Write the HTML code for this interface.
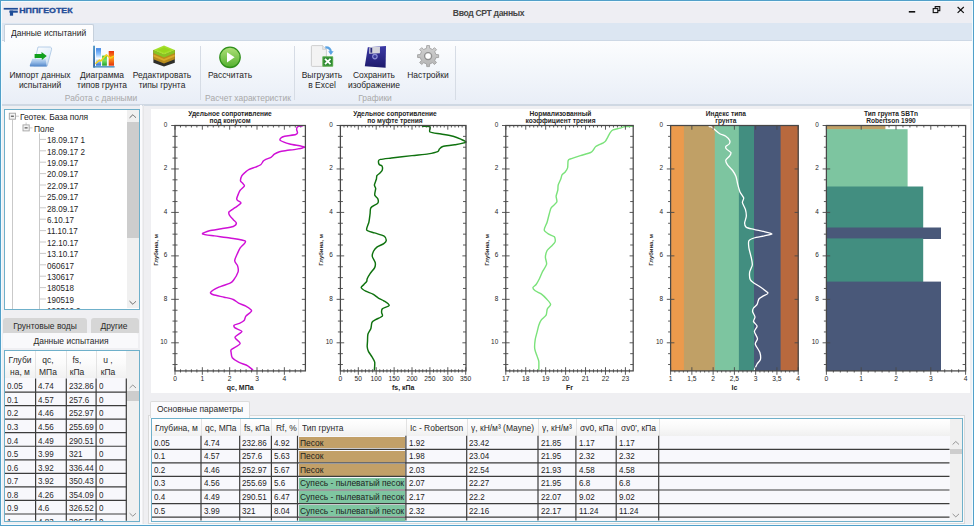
<!DOCTYPE html>
<html><head><meta charset="utf-8">
<style>
*{box-sizing:border-box;margin:0;padding:0}
html,body{width:974px;height:526px;overflow:hidden}
body{position:relative;background:#efeff2;font-family:"Liberation Sans",sans-serif;font-size:8.6px;color:#222}
.a{position:absolute}
.t{position:absolute;white-space:nowrap;line-height:1}
</style></head><body>
<div class="a" style="left:0px;top:0px;width:974px;height:24px;background:#eeeef3;"></div>
<div class="a" style="left:0px;top:23px;width:974px;height:18px;background:#dce6f2;"></div>
<div class="a" style="left:0px;top:40px;width:974px;height:1px;background:#cdd8e5;"></div>
<div class="a" style="left:0px;top:41px;width:974px;height:63px;background:linear-gradient(#fcfdfe,#f4f7fb 40%,#e9eef7);"></div>
<div class="a" style="left:0px;top:104px;width:974px;height:1.6px;background:#cfd8e3;"></div>
<div class="a" style="left:4px;top:24px;width:90px;height:18px;background:linear-gradient(#fdfdfe,#fbfcfe);border:1px solid #c6d0dc;border-bottom:none;border-radius:2px 2px 0 0"></div>
<div class="t" style="top:29.48px;font-size:9.0px;color:#1e1e1e;left:10.50px;transform:scaleX(0.9400);transform-origin:left 50%;">Данные испытаний</div>
<div class="t" style="top:8.72px;font-size:8.6px;color:#454545;font-weight:bold;letter-spacing:-0.350px;left:338.50px;width:300px;text-align:center;">Ввод CPT данных</div>
<svg class="a" style="left:0;top:0" width="974" height="24" viewBox="0 0 974 24">
<g fill="#1f4c97">
<rect x="3.7" y="7.9" width="14.2" height="1.7"/>
<rect x="9.4" y="10.6" width="8.4" height="2.1"/>
<rect x="9.9" y="10.6" width="3.2" height="5.1"/>
<text x="19.2" y="12.9" font-family="Liberation Sans" font-weight="bold" font-size="7.0" stroke="#1f4c97" stroke-width="0.3" textLength="53.4" lengthAdjust="spacingAndGlyphs">НППГЕОТЕК</text>
</g>
<rect x="908.8" y="11" width="6.4" height="1.6" fill="#111"/>
<g fill="none" stroke="#111" stroke-width="1.1">
<rect x="933.2" y="8.6" width="4.6" height="4.0"/>
<path d="M935.2 8.6 V6.6 H939.8 V10.6 H937.8"/>
<path d="M957.6 7 L963.8 12.9 M963.8 7 L957.6 12.9" stroke-width="1.2"/>
</g>
</svg>
<div class="a" style="left:200px;top:46px;width:1px;height:53.6px;background:#d6dce5;"></div>
<div class="a" style="left:294px;top:46px;width:1px;height:53.6px;background:#d6dce5;"></div>
<div class="a" style="left:455px;top:46px;width:1px;height:53.6px;background:#d6dce5;"></div>
<div class="t" style="top:71.28px;font-size:9.0px;color:#262626;left:-110.50px;width:300px;text-align:center;transform:scaleX(0.9400);transform-origin:center 50%;">Импорт данных</div>
<div class="t" style="top:80.88px;font-size:9.0px;color:#262626;left:-110.50px;width:300px;text-align:center;transform:scaleX(0.9400);transform-origin:center 50%;">испытаний</div>
<div class="t" style="top:71.28px;font-size:9.0px;color:#262626;left:-48.00px;width:300px;text-align:center;transform:scaleX(0.9400);transform-origin:center 50%;">Диаграмма</div>
<div class="t" style="top:80.88px;font-size:9.0px;color:#262626;left:-48.00px;width:300px;text-align:center;transform:scaleX(0.9400);transform-origin:center 50%;">типов грунта</div>
<div class="t" style="top:71.28px;font-size:9.0px;color:#262626;left:12.30px;width:300px;text-align:center;transform:scaleX(0.9400);transform-origin:center 50%;">Редактировать</div>
<div class="t" style="top:80.88px;font-size:9.0px;color:#262626;left:12.30px;width:300px;text-align:center;transform:scaleX(0.9400);transform-origin:center 50%;">типы грунта</div>
<div class="t" style="top:71.28px;font-size:9.0px;color:#262626;left:79.50px;width:300px;text-align:center;transform:scaleX(0.9400);transform-origin:center 50%;">Рассчитать</div>
<div class="t" style="top:71.28px;font-size:9.0px;color:#262626;left:171.50px;width:300px;text-align:center;transform:scaleX(0.9400);transform-origin:center 50%;">Выгрузить</div>
<div class="t" style="top:80.88px;font-size:9.0px;color:#262626;left:171.50px;width:300px;text-align:center;transform:scaleX(0.9400);transform-origin:center 50%;">в Excel</div>
<div class="t" style="top:71.28px;font-size:9.0px;color:#262626;left:224.30px;width:300px;text-align:center;transform:scaleX(0.9400);transform-origin:center 50%;">Сохранить</div>
<div class="t" style="top:80.88px;font-size:9.0px;color:#262626;left:224.30px;width:300px;text-align:center;transform:scaleX(0.9400);transform-origin:center 50%;">изображение</div>
<div class="t" style="top:71.28px;font-size:9.0px;color:#262626;left:278.20px;width:300px;text-align:center;transform:scaleX(0.9400);transform-origin:center 50%;">Настройки</div>
<div class="t" style="top:93.88px;font-size:9.0px;color:#a9a9a9;left:-49.00px;width:300px;text-align:center;transform:scaleX(0.9400);transform-origin:center 50%;">Работа с данными</div>
<div class="t" style="top:93.88px;font-size:9.0px;color:#a9a9a9;left:97.70px;width:300px;text-align:center;transform:scaleX(0.9400);transform-origin:center 50%;">Расчет характеристик</div>
<div class="t" style="top:93.88px;font-size:9.0px;color:#a9a9a9;left:225.40px;width:300px;text-align:center;transform:scaleX(0.9400);transform-origin:center 50%;">Графики</div>
<svg class="a" style="left:0;top:0" width="460" height="104" viewBox="0 0 460 104">
<defs>
<linearGradient id="gpage" x1="0" y1="0" x2="1" y2="1"><stop offset="0" stop-color="#ffffff"/><stop offset=".6" stop-color="#e6f0fa"/><stop offset="1" stop-color="#b8d0ea"/></linearGradient>
<linearGradient id="gtray" x1="0" y1="0" x2="0" y2="1"><stop offset="0" stop-color="#c7dcf2"/><stop offset=".5" stop-color="#8fb6e4"/><stop offset="1" stop-color="#4c82c6"/></linearGradient>
<linearGradient id="gplay" x1="0" y1="0" x2="0" y2="1"><stop offset="0" stop-color="#b0e07a"/><stop offset="1" stop-color="#52b02e"/></linearGradient>
<linearGradient id="gbar1" x1="0" y1="0" x2="0" y2="1"><stop offset="0" stop-color="#3f86e6"/><stop offset=".35" stop-color="#8fc4ff"/><stop offset=".6" stop-color="#ffffff"/><stop offset=".8" stop-color="#7ab0f0"/><stop offset="1" stop-color="#2c6cd2"/></linearGradient>
<linearGradient id="gbar2" x1="0" y1="0" x2="0" y2="1"><stop offset="0" stop-color="#4cc83a"/><stop offset=".5" stop-color="#7be060"/><stop offset="1" stop-color="#21a02a"/></linearGradient>
<linearGradient id="gbar3" x1="0" y1="0" x2="0" y2="1"><stop offset="0" stop-color="#e8300e"/><stop offset=".5" stop-color="#ff9a18"/><stop offset="1" stop-color="#e2300e"/></linearGradient>
<linearGradient id="gaxis" x1="0" y1="0" x2="0" y2="1"><stop offset="0" stop-color="#3f8cc0"/><stop offset="1" stop-color="#1d4f8f"/></linearGradient>
<linearGradient id="gfl" x1="0" y1="0" x2="0" y2="1"><stop offset="0" stop-color="#3c3aa6"/><stop offset="1" stop-color="#1d1a6c"/></linearGradient>
<linearGradient id="ggear" x1="0" y1="0" x2="0" y2="1"><stop offset="0" stop-color="#d2d2d2"/><stop offset="1" stop-color="#b4b4b4"/></linearGradient>
</defs>
<!-- import icon -->
<path d="M38 47 L50.3 47 Q52 47.6 51.6 49.3 L47.2 66 L33.6 66 Z" fill="url(#gpage)" stroke="#9dbde0" stroke-width=".7"/>
<path d="M32.2 58.8 L45.6 58.8 L46.8 66.6 L30 66.6 Q29.4 65.2 30.3 63.8 Q31.4 61.6 32.2 58.8 Z" fill="url(#gtray)"/>
<path d="M34.6 54 L41.5 54 L41.5 52.1 L46.8 56.1 L41.8 60.1 L41.8 58 L34.6 58 Z" fill="#12a01c"/>
<!-- chart icon -->
<rect x="93.2" y="45.7" width="1.7" height="21.8" fill="url(#gaxis)"/>
<rect x="93.2" y="66.2" width="21.4" height="1.3" fill="#3b86b8"/>
<rect x="96" y="48.1" width="5" height="17.6" fill="url(#gbar1)"/>
<rect x="102.1" y="55.6" width="4.8" height="10.1" fill="url(#gbar2)"/>
<rect x="108.7" y="51" width="5.3" height="14.7" fill="url(#gbar3)"/>
<path d="M95.4 63.8 L99.4 60.1 L100.8 60.9 L106.4 54.8 L110.3 58 L114 56.1" fill="none" stroke="#f6d21c" stroke-width="1.5" stroke-linejoin="round"/>
<!-- soil cube -->
<path d="M153.4 50 L164 54.6 L174.8 50 L174.8 62.8 L164 66.5 L153.4 62.8 Z" fill="#2e2e2a"/>
<path d="M153.4 50 L164 54.6 L174.8 50 L174.8 59.3 L164 63.6 L153.4 59.3 Z" fill="#b88c1c"/>
<path d="M153.4 54.6 L164 59 L174.8 54.6 L174.8 56.4 L164 60.9 L153.4 56.4 Z" fill="#d9aa2a"/>
<path d="M153.4 50 L164 54.6 L174.8 50 L174.8 53 L164 57.6 L153.4 53 Z" fill="#86c423"/>
<path d="M164 45.4 L174.8 50 L164 54.6 L153.4 50 Z" fill="#a4e02c"/>
<path d="M164 47.3 L171 50 L164 52.8 L157 50 Z" fill="#98d61e"/>
<!-- play -->
<circle cx="230" cy="57.3" r="10.2" fill="url(#gplay)" stroke="#2f8f1a" stroke-width="1.3"/>
<path d="M227 52.2 L234.6 57.3 L227 62.4 Z" fill="#ffffff"/>
<!-- excel icon -->
<path d="M312.2 45.6 L322.6 45.6 L326.4 49.4 L326.4 65.6 Q326.4 66.4 325.6 66.4 L312.2 66.4 Q311.4 66.4 311.4 65.6 L311.4 46.4 Q311.4 45.6 312.2 45.6 Z" fill="#f3f3f3" stroke="#c4c4c4" stroke-width=".8"/>
<path d="M322.6 45.6 L322.6 49.4 L326.4 49.4" fill="#e6e6e6" stroke="#c4c4c4" stroke-width=".6"/>
<path d="M325.3 47.4 Q330.6 47.2 330.9 52" fill="none" stroke="#5aa2e2" stroke-width="2.1"/>
<path d="M328.2 51.2 L333.6 51.2 L330.9 55 Z" fill="#5aa2e2"/>
<rect x="322.3" y="56.2" width="10.9" height="10.5" rx=".8" fill="#5cae4e"/>
<rect x="323.4" y="57.3" width="8.7" height="8.3" fill="#2f8a34"/>
<path d="M325 58.9 L330.5 64.1 M330.5 58.9 L325 64.1" stroke="#ffffff" stroke-width="1.8"/>
<!-- floppy -->
<path d="M367.8 47.2 L386 46 L385.6 67.8 L364.8 66.2 Z" fill="url(#gfl)"/>
<path d="M369.3 47.3 L380 46.7 L379.9 53.2 L369.2 53.7 Z" fill="#d4d4dc"/>
<rect x="370.4" y="47.9" width="1.8" height="4.8" fill="#2a2a7a"/>
<circle cx="374.9" cy="56.6" r="2.8" fill="#8d8fd6"/>
<circle cx="374.9" cy="56.6" r="1.6" fill="#3a3a9a"/>
<!-- gear -->
<path d="M426.54 48.25 L426.69 45.59 L429.51 45.59 L429.66 48.25 L432.54 49.45 L434.53 47.67 L436.53 49.67 L434.75 51.66 L435.95 54.54 L438.61 54.69 L438.61 57.51 L435.95 57.66 L434.75 60.54 L436.53 62.53 L434.53 64.53 L432.54 62.75 L429.66 63.95 L429.51 66.61 L426.69 66.61 L426.54 63.95 L423.66 62.75 L421.67 64.53 L419.67 62.53 L421.45 60.54 L420.25 57.66 L417.59 57.51 L417.59 54.69 L420.25 54.54 L421.45 51.66 L419.67 49.67 L421.67 47.67 L423.66 49.45 Z" fill="url(#ggear)" stroke="#9a9a9a" stroke-width=".8" stroke-linejoin="round"/>
<circle cx="428.1" cy="56.1" r="3.6" fill="none" stroke="#8e8e8e" stroke-width="1.1"/>
<circle cx="428.1" cy="56.1" r="2.6" fill="#ffffff"/>
</svg>
<div class="a" style="left:4px;top:109px;width:136px;height:201px;background:#ffffff;border:1px solid #6fb0ca"></div>
<div class="a" style="left:126.8px;top:110px;width:12px;height:198px;background:#f0f0f0;"></div>
<div class="a" style="left:126.8px;top:121.8px;width:12px;height:116.4px;background:#cdcdcd;"></div>
<svg class="a" style="left:0;top:0" width="145" height="526" viewBox="0 0 145 526">
<path d="M129.6 117.8 L132.8 114.8 L136 117.8" fill="none" stroke="#8a8a8a" stroke-width=".9"/>
<path d="M129.6 301.2 L132.8 304.2 L136 301.2" fill="none" stroke="#8a8a8a" stroke-width=".9"/>
<path d="M129.6 388.2 L132.8 385.2 L136 388.2" fill="none" stroke="#8a8a8a" stroke-width=".9"/>
<path d="M129.6 513.2 L132.8 516.2 L136 513.2" fill="none" stroke="#8a8a8a" stroke-width=".9"/>
<g stroke="#c9c9c9" stroke-width="1" fill="none">
<path d="M12.5 119.5 V309"/>
<path d="M16 116.2 H19"/>
<path d="M26.1 122.5 V125"/>
<path d="M29.3 127.9 H32.5"/>
<path d="M39.5 133.5 V309"/>
</g>
<g stroke="#c9c9c9" stroke-width="1"><path d="M39.5 139.4 H46"/><path d="M39.5 150.8 H46"/><path d="M39.5 162.2 H46"/><path d="M39.5 173.6 H46"/><path d="M39.5 185.0 H46"/><path d="M39.5 196.4 H46"/><path d="M39.5 207.8 H46"/><path d="M39.5 219.2 H46"/><path d="M39.5 230.6 H46"/><path d="M39.5 242.0 H46"/><path d="M39.5 253.4 H46"/><path d="M39.5 264.8 H46"/><path d="M39.5 276.2 H46"/><path d="M39.5 287.6 H46"/><path d="M39.5 299.0 H46"/><path d="M39.5 310.4 H46"/></g>
<g>
<rect x="9.3" y="113.2" width="6.2" height="6" fill="#f4f4f4" stroke="#a3a3a3" stroke-width=".9"/>
<path d="M10.9 116.2 H13.9" stroke="#333" stroke-width="1"/>
<rect x="23" y="124.9" width="6.2" height="6" fill="#f4f4f4" stroke="#a3a3a3" stroke-width=".9"/>
<path d="M24.6 127.9 H27.6" stroke="#333" stroke-width="1"/>
</g>
</svg>
<div class="t" style="top:113.38px;font-size:9.0px;color:#1e1e1e;letter-spacing:-0.120px;left:19.80px;transform:scaleX(0.9400);transform-origin:left 50%;">Геотек. База поля</div>
<div class="t" style="top:124.88px;font-size:9.0px;color:#1e1e1e;left:33.50px;transform:scaleX(0.9400);transform-origin:left 50%;">Поле</div>
<div class="t" style="top:136.28px;font-size:9.0px;color:#1e1e1e;left:47.20px;transform:scaleX(0.8950);transform-origin:left 50%;">18.09.17 1</div>
<div class="t" style="top:147.68px;font-size:9.0px;color:#1e1e1e;left:47.20px;transform:scaleX(0.8950);transform-origin:left 50%;">18.09.17 2</div>
<div class="t" style="top:159.08px;font-size:9.0px;color:#1e1e1e;left:47.20px;transform:scaleX(0.8950);transform-origin:left 50%;">19.09.17</div>
<div class="t" style="top:170.48px;font-size:9.0px;color:#1e1e1e;left:47.20px;transform:scaleX(0.8950);transform-origin:left 50%;">20.09.17</div>
<div class="t" style="top:181.88px;font-size:9.0px;color:#1e1e1e;left:47.20px;transform:scaleX(0.8950);transform-origin:left 50%;">22.09.17</div>
<div class="t" style="top:193.28px;font-size:9.0px;color:#1e1e1e;left:47.20px;transform:scaleX(0.8950);transform-origin:left 50%;">25.09.17</div>
<div class="t" style="top:204.68px;font-size:9.0px;color:#1e1e1e;left:47.20px;transform:scaleX(0.8950);transform-origin:left 50%;">28.09.17</div>
<div class="t" style="top:216.08px;font-size:9.0px;color:#1e1e1e;left:47.20px;transform:scaleX(0.8950);transform-origin:left 50%;">6.10.17</div>
<div class="t" style="top:227.48px;font-size:9.0px;color:#1e1e1e;left:47.20px;transform:scaleX(0.8950);transform-origin:left 50%;">11.10.17</div>
<div class="t" style="top:238.88px;font-size:9.0px;color:#1e1e1e;left:47.20px;transform:scaleX(0.8950);transform-origin:left 50%;">12.10.17</div>
<div class="t" style="top:250.28px;font-size:9.0px;color:#1e1e1e;left:47.20px;transform:scaleX(0.8950);transform-origin:left 50%;">13.10.17</div>
<div class="t" style="top:261.68px;font-size:9.0px;color:#1e1e1e;left:47.20px;transform:scaleX(0.8950);transform-origin:left 50%;">060617</div>
<div class="t" style="top:273.08px;font-size:9.0px;color:#1e1e1e;left:47.20px;transform:scaleX(0.8950);transform-origin:left 50%;">130617</div>
<div class="t" style="top:284.48px;font-size:9.0px;color:#1e1e1e;left:47.20px;transform:scaleX(0.8950);transform-origin:left 50%;">180518</div>
<div class="t" style="top:295.88px;font-size:9.0px;color:#1e1e1e;left:47.20px;transform:scaleX(0.8950);transform-origin:left 50%;">190519</div>
<div class="t" style="top:307.28px;font-size:9.0px;color:#1e1e1e;left:47.20px;transform:scaleX(0.8950);transform-origin:left 50%;">190519 2</div>
<div class="a" style="left:4px;top:309px;width:136px;height:10px;background:#efeff2;"></div>
<div class="a" style="left:4px;top:308.5px;width:136px;height:1.2px;background:#6fb0ca;"></div>
<div class="a" style="left:4px;top:109px;width:1px;height:201px;background:#6fb0ca;"></div>
<div class="a" style="left:139px;top:109px;width:1px;height:201px;background:#6fb0ca;"></div>
<div class="a" style="left:2.7px;top:318px;width:84.3px;height:15px;background:#d6d6d6;border-radius:3px 3px 0 0"></div>
<div class="a" style="left:91px;top:318px;width:47.5px;height:15px;background:#d6d6d6;border-radius:3px 3px 0 0"></div>
<div class="t" style="top:322.28px;font-size:9.0px;color:#2a2a2a;left:-105.20px;width:300px;text-align:center;transform:scaleX(0.9400);transform-origin:center 50%;">Грунтовые воды</div>
<div class="t" style="top:322.28px;font-size:9.0px;color:#2a2a2a;left:-35.70px;width:300px;text-align:center;transform:scaleX(0.9400);transform-origin:center 50%;">Другие</div>
<div class="a" style="left:2.7px;top:332.5px;width:135px;height:15px;background:#f9f9fb;border-radius:2px 2px 0 0"></div>
<div class="t" style="top:337.18px;font-size:9.0px;color:#2a2a2a;left:-79.50px;width:300px;text-align:center;transform:scaleX(0.9400);transform-origin:center 50%;">Данные испытания</div>
<div class="a" style="left:4px;top:350px;width:136px;height:172px;background:#f8f8fc;border:1px solid #6fb0ca"></div>
<div class="a" style="left:5px;top:351px;width:121.3px;height:27.3px;background:linear-gradient(#ffffff 0%,#fbfbfb 45%,#f1f1f1 100%);"></div>
<div class="a" style="left:35.2px;top:351px;width:1px;height:27.3px;background:#e4e4e4;"></div>
<div class="a" style="left:66.1px;top:351px;width:1px;height:27.3px;background:#e4e4e4;"></div>
<div class="a" style="left:96.3px;top:351px;width:1px;height:27.3px;background:#e4e4e4;"></div>
<div class="t" style="top:356.48px;font-size:9.0px;color:#2a2a2a;left:-130.10px;width:300px;text-align:center;transform:scaleX(0.9400);transform-origin:center 50%;">Глуби</div>
<div class="t" style="top:368.08px;font-size:9.0px;color:#2a2a2a;left:-130.10px;width:300px;text-align:center;transform:scaleX(0.9400);transform-origin:center 50%;">на, м</div>
<div class="t" style="top:356.48px;font-size:9.0px;color:#2a2a2a;left:-102.00px;width:300px;text-align:center;transform:scaleX(0.9400);transform-origin:center 50%;">qc,</div>
<div class="t" style="top:368.08px;font-size:9.0px;color:#2a2a2a;left:-102.00px;width:300px;text-align:center;transform:scaleX(0.9400);transform-origin:center 50%;">МПа</div>
<div class="t" style="top:356.48px;font-size:9.0px;color:#2a2a2a;left:-73.30px;width:300px;text-align:center;transform:scaleX(0.9400);transform-origin:center 50%;">fs,</div>
<div class="t" style="top:368.08px;font-size:9.0px;color:#2a2a2a;left:-73.30px;width:300px;text-align:center;transform:scaleX(0.9400);transform-origin:center 50%;">кПа</div>
<div class="t" style="top:356.48px;font-size:9.0px;color:#2a2a2a;left:-42.30px;width:300px;text-align:center;transform:scaleX(0.9400);transform-origin:center 50%;">u ,</div>
<div class="t" style="top:368.08px;font-size:9.0px;color:#2a2a2a;left:-42.30px;width:300px;text-align:center;transform:scaleX(0.9400);transform-origin:center 50%;">кПа</div>
<div class="a" style="left:126.3px;top:351px;width:12.7px;height:170px;background:#f0f0f0;"></div>
<div class="a" style="left:126.3px;top:391.3px;width:12.7px;height:9.7px;background:#cdcdcd;"></div>
<div class="t" style="top:382.38px;font-size:9.0px;color:#2a2a2a;left:7.10px;transform:scaleX(0.8950);transform-origin:left 50%;">0.05</div>
<div class="t" style="top:382.38px;font-size:9.0px;color:#2a2a2a;left:37.80px;transform:scaleX(0.8950);transform-origin:left 50%;">4.74</div>
<div class="t" style="top:382.38px;font-size:9.0px;color:#2a2a2a;left:68.70px;transform:scaleX(0.8950);transform-origin:left 50%;">232.86</div>
<div class="t" style="top:382.38px;font-size:9.0px;color:#2a2a2a;left:98.90px;transform:scaleX(0.8950);transform-origin:left 50%;">0</div>
<div class="t" style="top:395.93px;font-size:9.0px;color:#2a2a2a;left:7.10px;transform:scaleX(0.8950);transform-origin:left 50%;">0.1</div>
<div class="t" style="top:395.93px;font-size:9.0px;color:#2a2a2a;left:37.80px;transform:scaleX(0.8950);transform-origin:left 50%;">4.57</div>
<div class="t" style="top:395.93px;font-size:9.0px;color:#2a2a2a;left:68.70px;transform:scaleX(0.8950);transform-origin:left 50%;">257.6</div>
<div class="t" style="top:395.93px;font-size:9.0px;color:#2a2a2a;left:98.90px;transform:scaleX(0.8950);transform-origin:left 50%;">0</div>
<div class="t" style="top:409.48px;font-size:9.0px;color:#2a2a2a;left:7.10px;transform:scaleX(0.8950);transform-origin:left 50%;">0.2</div>
<div class="t" style="top:409.48px;font-size:9.0px;color:#2a2a2a;left:37.80px;transform:scaleX(0.8950);transform-origin:left 50%;">4.46</div>
<div class="t" style="top:409.48px;font-size:9.0px;color:#2a2a2a;left:68.70px;transform:scaleX(0.8950);transform-origin:left 50%;">252.97</div>
<div class="t" style="top:409.48px;font-size:9.0px;color:#2a2a2a;left:98.90px;transform:scaleX(0.8950);transform-origin:left 50%;">0</div>
<div class="t" style="top:423.03px;font-size:9.0px;color:#2a2a2a;left:7.10px;transform:scaleX(0.8950);transform-origin:left 50%;">0.3</div>
<div class="t" style="top:423.03px;font-size:9.0px;color:#2a2a2a;left:37.80px;transform:scaleX(0.8950);transform-origin:left 50%;">4.56</div>
<div class="t" style="top:423.03px;font-size:9.0px;color:#2a2a2a;left:68.70px;transform:scaleX(0.8950);transform-origin:left 50%;">255.69</div>
<div class="t" style="top:423.03px;font-size:9.0px;color:#2a2a2a;left:98.90px;transform:scaleX(0.8950);transform-origin:left 50%;">0</div>
<div class="t" style="top:436.58px;font-size:9.0px;color:#2a2a2a;left:7.10px;transform:scaleX(0.8950);transform-origin:left 50%;">0.4</div>
<div class="t" style="top:436.58px;font-size:9.0px;color:#2a2a2a;left:37.80px;transform:scaleX(0.8950);transform-origin:left 50%;">4.49</div>
<div class="t" style="top:436.58px;font-size:9.0px;color:#2a2a2a;left:68.70px;transform:scaleX(0.8950);transform-origin:left 50%;">290.51</div>
<div class="t" style="top:436.58px;font-size:9.0px;color:#2a2a2a;left:98.90px;transform:scaleX(0.8950);transform-origin:left 50%;">0</div>
<div class="t" style="top:450.13px;font-size:9.0px;color:#2a2a2a;left:7.10px;transform:scaleX(0.8950);transform-origin:left 50%;">0.5</div>
<div class="t" style="top:450.13px;font-size:9.0px;color:#2a2a2a;left:37.80px;transform:scaleX(0.8950);transform-origin:left 50%;">3.99</div>
<div class="t" style="top:450.13px;font-size:9.0px;color:#2a2a2a;left:68.70px;transform:scaleX(0.8950);transform-origin:left 50%;">321</div>
<div class="t" style="top:450.13px;font-size:9.0px;color:#2a2a2a;left:98.90px;transform:scaleX(0.8950);transform-origin:left 50%;">0</div>
<div class="t" style="top:463.68px;font-size:9.0px;color:#2a2a2a;left:7.10px;transform:scaleX(0.8950);transform-origin:left 50%;">0.6</div>
<div class="t" style="top:463.68px;font-size:9.0px;color:#2a2a2a;left:37.80px;transform:scaleX(0.8950);transform-origin:left 50%;">3.92</div>
<div class="t" style="top:463.68px;font-size:9.0px;color:#2a2a2a;left:68.70px;transform:scaleX(0.8950);transform-origin:left 50%;">336.44</div>
<div class="t" style="top:463.68px;font-size:9.0px;color:#2a2a2a;left:98.90px;transform:scaleX(0.8950);transform-origin:left 50%;">0</div>
<div class="t" style="top:477.23px;font-size:9.0px;color:#2a2a2a;left:7.10px;transform:scaleX(0.8950);transform-origin:left 50%;">0.7</div>
<div class="t" style="top:477.23px;font-size:9.0px;color:#2a2a2a;left:37.80px;transform:scaleX(0.8950);transform-origin:left 50%;">3.92</div>
<div class="t" style="top:477.23px;font-size:9.0px;color:#2a2a2a;left:68.70px;transform:scaleX(0.8950);transform-origin:left 50%;">350.43</div>
<div class="t" style="top:477.23px;font-size:9.0px;color:#2a2a2a;left:98.90px;transform:scaleX(0.8950);transform-origin:left 50%;">0</div>
<div class="t" style="top:490.78px;font-size:9.0px;color:#2a2a2a;left:7.10px;transform:scaleX(0.8950);transform-origin:left 50%;">0.8</div>
<div class="t" style="top:490.78px;font-size:9.0px;color:#2a2a2a;left:37.80px;transform:scaleX(0.8950);transform-origin:left 50%;">4.26</div>
<div class="t" style="top:490.78px;font-size:9.0px;color:#2a2a2a;left:68.70px;transform:scaleX(0.8950);transform-origin:left 50%;">354.09</div>
<div class="t" style="top:490.78px;font-size:9.0px;color:#2a2a2a;left:98.90px;transform:scaleX(0.8950);transform-origin:left 50%;">0</div>
<div class="t" style="top:504.33px;font-size:9.0px;color:#2a2a2a;left:7.10px;transform:scaleX(0.8950);transform-origin:left 50%;">0.9</div>
<div class="t" style="top:504.33px;font-size:9.0px;color:#2a2a2a;left:37.80px;transform:scaleX(0.8950);transform-origin:left 50%;">4.6</div>
<div class="t" style="top:504.33px;font-size:9.0px;color:#2a2a2a;left:68.70px;transform:scaleX(0.8950);transform-origin:left 50%;">326.52</div>
<div class="t" style="top:504.33px;font-size:9.0px;color:#2a2a2a;left:98.90px;transform:scaleX(0.8950);transform-origin:left 50%;">0</div>
<div class="t" style="top:517.88px;font-size:9.0px;color:#2a2a2a;left:7.10px;transform:scaleX(0.8950);transform-origin:left 50%;">1</div>
<div class="t" style="top:517.88px;font-size:9.0px;color:#2a2a2a;left:37.80px;transform:scaleX(0.8950);transform-origin:left 50%;">4.83</div>
<div class="t" style="top:517.88px;font-size:9.0px;color:#2a2a2a;left:68.70px;transform:scaleX(0.8950);transform-origin:left 50%;">306.55</div>
<div class="t" style="top:517.88px;font-size:9.0px;color:#2a2a2a;left:98.90px;transform:scaleX(0.8950);transform-origin:left 50%;">0</div>
<svg class="a" style="left:0;top:0" width="145" height="526" viewBox="0 0 145 526"><g stroke="#3c3c3c" stroke-width="1.2"><path d="M5 392.05 H126.5"/><path d="M5 405.60 H126.5"/><path d="M5 419.15 H126.5"/><path d="M5 432.70 H126.5"/><path d="M5 446.25 H126.5"/><path d="M5 459.80 H126.5"/><path d="M5 473.35 H126.5"/><path d="M5 486.90 H126.5"/><path d="M5 500.45 H126.5"/><path d="M5 514.00 H126.5"/><path d="M35.6 378.5 V520.8"/><path d="M66.3 378.5 V520.8"/><path d="M96.1 378.5 V520.8"/><path d="M126.3 378.5 V520.8"/></g></svg>
<div class="a" style="left:4px;top:521.2px;width:136px;height:3px;background:#efeff2;"></div>
<div class="a" style="left:4px;top:520.6px;width:136px;height:1px;background:#6fb0ca;"></div>
<div class="a" style="left:140px;top:105px;width:1.8px;height:419px;background:#fbfbfd;"></div>
<div class="a" style="left:143.4px;top:105px;width:1px;height:419px;background:#e6e6e8;"></div>
<div class="a" style="left:151px;top:109px;width:819px;height:283.6px;background:#ffffff;"></div>
<svg class="a" style="left:0;top:0" width="974" height="526" viewBox="0 0 974 526" font-family="Liberation Sans"><path d="M180.47 125.5 v2 M180.47 369.29999999999995 v3.2 M185.94 125.5 v2 M185.94 369.29999999999995 v3.2 M191.40 125.5 v2 M191.40 369.29999999999995 v3.2 M196.87 125.5 v2 M196.87 369.29999999999995 v3.2 M207.81 125.5 v2 M207.81 369.29999999999995 v3.2 M213.27 125.5 v2 M213.27 369.29999999999995 v3.2 M218.74 125.5 v2 M218.74 369.29999999999995 v3.2 M224.21 125.5 v2 M224.21 369.29999999999995 v3.2 M235.14 125.5 v2 M235.14 369.29999999999995 v3.2 M240.61 125.5 v2 M240.61 369.29999999999995 v3.2 M246.08 125.5 v2 M246.08 369.29999999999995 v3.2 M251.55 125.5 v2 M251.55 369.29999999999995 v3.2 M262.48 125.5 v2 M262.48 369.29999999999995 v3.2 M267.95 125.5 v2 M267.95 369.29999999999995 v3.2 M273.42 125.5 v2 M273.42 369.29999999999995 v3.2 M278.88 125.5 v2 M278.88 369.29999999999995 v3.2 M289.82 125.5 v2 M289.82 369.29999999999995 v3.2 M295.29 125.5 v2 M295.29 369.29999999999995 v3.2 M300.75 125.5 v2 M300.75 369.29999999999995 v3.2 M172.50 136.37 h5 M302.40 136.37 h3 M172.50 147.23 h5 M302.40 147.23 h3 M172.50 158.09 h5 M302.40 158.09 h3 M172.50 179.82 h5 M302.40 179.82 h3 M172.50 190.69 h5 M302.40 190.69 h3 M172.50 201.56 h5 M302.40 201.56 h3 M172.50 223.28 h5 M302.40 223.28 h3 M172.50 234.15 h5 M302.40 234.15 h3 M172.50 245.01 h5 M302.40 245.01 h3 M172.50 266.75 h5 M302.40 266.75 h3 M172.50 277.61 h5 M302.40 277.61 h3 M172.50 288.48 h5 M302.40 288.48 h3 M172.50 310.21 h5 M302.40 310.21 h3 M172.50 321.07 h5 M302.40 321.07 h3 M172.50 331.94 h5 M302.40 331.94 h3 M172.50 353.66 h5 M302.40 353.66 h3 M172.50 364.53 h5 M302.40 364.53 h3" stroke="#474747" stroke-width="0.9" fill="none"/><path d="M343.98 125.5 v2 M343.98 369.29999999999995 v3.2 M347.56 125.5 v2 M347.56 369.29999999999995 v3.2 M351.14 125.5 v2 M351.14 369.29999999999995 v3.2 M354.72 125.5 v2 M354.72 369.29999999999995 v3.2 M361.88 125.5 v2 M361.88 369.29999999999995 v3.2 M365.46 125.5 v2 M365.46 369.29999999999995 v3.2 M369.04 125.5 v2 M369.04 369.29999999999995 v3.2 M372.62 125.5 v2 M372.62 369.29999999999995 v3.2 M379.78 125.5 v2 M379.78 369.29999999999995 v3.2 M383.36 125.5 v2 M383.36 369.29999999999995 v3.2 M386.95 125.5 v2 M386.95 369.29999999999995 v3.2 M390.53 125.5 v2 M390.53 369.29999999999995 v3.2 M397.69 125.5 v2 M397.69 369.29999999999995 v3.2 M401.27 125.5 v2 M401.27 369.29999999999995 v3.2 M404.85 125.5 v2 M404.85 369.29999999999995 v3.2 M408.43 125.5 v2 M408.43 369.29999999999995 v3.2 M415.59 125.5 v2 M415.59 369.29999999999995 v3.2 M419.17 125.5 v2 M419.17 369.29999999999995 v3.2 M422.75 125.5 v2 M422.75 369.29999999999995 v3.2 M426.33 125.5 v2 M426.33 369.29999999999995 v3.2 M433.49 125.5 v2 M433.49 369.29999999999995 v3.2 M437.07 125.5 v2 M437.07 369.29999999999995 v3.2 M440.65 125.5 v2 M440.65 369.29999999999995 v3.2 M444.23 125.5 v2 M444.23 369.29999999999995 v3.2 M451.39 125.5 v2 M451.39 369.29999999999995 v3.2 M454.97 125.5 v2 M454.97 369.29999999999995 v3.2 M458.55 125.5 v2 M458.55 369.29999999999995 v3.2 M462.13 125.5 v2 M462.13 369.29999999999995 v3.2 M337.90 136.37 h5 M463.00 136.37 h3 M337.90 147.23 h5 M463.00 147.23 h3 M337.90 158.09 h5 M463.00 158.09 h3 M337.90 179.82 h5 M463.00 179.82 h3 M337.90 190.69 h5 M463.00 190.69 h3 M337.90 201.56 h5 M463.00 201.56 h3 M337.90 223.28 h5 M463.00 223.28 h3 M337.90 234.15 h5 M463.00 234.15 h3 M337.90 245.01 h5 M463.00 245.01 h3 M337.90 266.75 h5 M463.00 266.75 h3 M337.90 277.61 h5 M463.00 277.61 h3 M337.90 288.48 h5 M463.00 288.48 h3 M337.90 310.21 h5 M463.00 310.21 h3 M337.90 321.07 h5 M463.00 321.07 h3 M337.90 331.94 h5 M463.00 331.94 h3 M337.90 353.66 h5 M463.00 353.66 h3 M337.90 364.53 h5 M463.00 364.53 h3" stroke="#474747" stroke-width="0.9" fill="none"/><path d="M509.79 125.5 v2 M509.79 369.29999999999995 v3.2 M513.77 125.5 v2 M513.77 369.29999999999995 v3.2 M517.76 125.5 v2 M517.76 369.29999999999995 v3.2 M521.75 125.5 v2 M521.75 369.29999999999995 v3.2 M529.72 125.5 v2 M529.72 369.29999999999995 v3.2 M533.71 125.5 v2 M533.71 369.29999999999995 v3.2 M537.70 125.5 v2 M537.70 369.29999999999995 v3.2 M541.69 125.5 v2 M541.69 369.29999999999995 v3.2 M549.66 125.5 v2 M549.66 369.29999999999995 v3.2 M553.65 125.5 v2 M553.65 369.29999999999995 v3.2 M557.64 125.5 v2 M557.64 369.29999999999995 v3.2 M561.62 125.5 v2 M561.62 369.29999999999995 v3.2 M569.60 125.5 v2 M569.60 369.29999999999995 v3.2 M573.59 125.5 v2 M573.59 369.29999999999995 v3.2 M577.57 125.5 v2 M577.57 369.29999999999995 v3.2 M581.56 125.5 v2 M581.56 369.29999999999995 v3.2 M589.54 125.5 v2 M589.54 369.29999999999995 v3.2 M593.52 125.5 v2 M593.52 369.29999999999995 v3.2 M597.51 125.5 v2 M597.51 369.29999999999995 v3.2 M601.50 125.5 v2 M601.50 369.29999999999995 v3.2 M609.47 125.5 v2 M609.47 369.29999999999995 v3.2 M613.46 125.5 v2 M613.46 369.29999999999995 v3.2 M617.45 125.5 v2 M617.45 369.29999999999995 v3.2 M621.44 125.5 v2 M621.44 369.29999999999995 v3.2 M629.41 125.5 v2 M629.41 369.29999999999995 v3.2 M503.30 136.37 h5 M630.20 136.37 h3 M503.30 147.23 h5 M630.20 147.23 h3 M503.30 158.09 h5 M630.20 158.09 h3 M503.30 179.82 h5 M630.20 179.82 h3 M503.30 190.69 h5 M630.20 190.69 h3 M503.30 201.56 h5 M630.20 201.56 h3 M503.30 223.28 h5 M630.20 223.28 h3 M503.30 234.15 h5 M630.20 234.15 h3 M503.30 245.01 h5 M630.20 245.01 h3 M503.30 266.75 h5 M630.20 266.75 h3 M503.30 277.61 h5 M630.20 277.61 h3 M503.30 288.48 h5 M630.20 288.48 h3 M503.30 310.21 h5 M630.20 310.21 h3 M503.30 321.07 h5 M630.20 321.07 h3 M503.30 331.94 h5 M630.20 331.94 h3 M503.30 353.66 h5 M630.20 353.66 h3 M503.30 364.53 h5 M630.20 364.53 h3" stroke="#474747" stroke-width="0.9" fill="none"/><path d="M674.85 125.5 v2 M674.85 369.29999999999995 v3.2 M679.11 125.5 v2 M679.11 369.29999999999995 v3.2 M683.36 125.5 v2 M683.36 369.29999999999995 v3.2 M687.61 125.5 v2 M687.61 369.29999999999995 v3.2 M696.12 125.5 v2 M696.12 369.29999999999995 v3.2 M700.37 125.5 v2 M700.37 369.29999999999995 v3.2 M704.63 125.5 v2 M704.63 369.29999999999995 v3.2 M708.88 125.5 v2 M708.88 369.29999999999995 v3.2 M717.39 125.5 v2 M717.39 369.29999999999995 v3.2 M721.64 125.5 v2 M721.64 369.29999999999995 v3.2 M725.89 125.5 v2 M725.89 369.29999999999995 v3.2 M730.15 125.5 v2 M730.15 369.29999999999995 v3.2 M738.65 125.5 v2 M738.65 369.29999999999995 v3.2 M742.91 125.5 v2 M742.91 369.29999999999995 v3.2 M747.16 125.5 v2 M747.16 369.29999999999995 v3.2 M751.41 125.5 v2 M751.41 369.29999999999995 v3.2 M759.92 125.5 v2 M759.92 369.29999999999995 v3.2 M764.17 125.5 v2 M764.17 369.29999999999995 v3.2 M768.43 125.5 v2 M768.43 369.29999999999995 v3.2 M772.68 125.5 v2 M772.68 369.29999999999995 v3.2 M781.19 125.5 v2 M781.19 369.29999999999995 v3.2 M785.44 125.5 v2 M785.44 369.29999999999995 v3.2 M789.69 125.5 v2 M789.69 369.29999999999995 v3.2 M793.95 125.5 v2 M793.95 369.29999999999995 v3.2 M668.10 136.37 h5 M795.20 136.37 h3 M668.10 147.23 h5 M795.20 147.23 h3 M668.10 158.09 h5 M795.20 158.09 h3 M668.10 179.82 h5 M795.20 179.82 h3 M668.10 190.69 h5 M795.20 190.69 h3 M668.10 201.56 h5 M795.20 201.56 h3 M668.10 223.28 h5 M795.20 223.28 h3 M668.10 234.15 h5 M795.20 234.15 h3 M668.10 245.01 h5 M795.20 245.01 h3 M668.10 266.75 h5 M795.20 266.75 h3 M668.10 277.61 h5 M795.20 277.61 h3 M668.10 288.48 h5 M795.20 288.48 h3 M668.10 310.21 h5 M795.20 310.21 h3 M668.10 321.07 h5 M795.20 321.07 h3 M668.10 331.94 h5 M795.20 331.94 h3 M668.10 353.66 h5 M795.20 353.66 h3 M668.10 364.53 h5 M795.20 364.53 h3" stroke="#474747" stroke-width="0.9" fill="none"/><path d="M833.36 125.5 v2 M833.36 369.29999999999995 v3.2 M840.32 125.5 v2 M840.32 369.29999999999995 v3.2 M847.28 125.5 v2 M847.28 369.29999999999995 v3.2 M854.24 125.5 v2 M854.24 369.29999999999995 v3.2 M868.16 125.5 v2 M868.16 369.29999999999995 v3.2 M875.12 125.5 v2 M875.12 369.29999999999995 v3.2 M882.08 125.5 v2 M882.08 369.29999999999995 v3.2 M889.04 125.5 v2 M889.04 369.29999999999995 v3.2 M902.96 125.5 v2 M902.96 369.29999999999995 v3.2 M909.92 125.5 v2 M909.92 369.29999999999995 v3.2 M916.88 125.5 v2 M916.88 369.29999999999995 v3.2 M923.84 125.5 v2 M923.84 369.29999999999995 v3.2 M937.76 125.5 v2 M937.76 369.29999999999995 v3.2 M944.72 125.5 v2 M944.72 369.29999999999995 v3.2 M951.68 125.5 v2 M951.68 369.29999999999995 v3.2 M958.64 125.5 v2 M958.64 369.29999999999995 v3.2 M823.90 136.37 h5 M962.60 136.37 h3 M823.90 147.23 h5 M962.60 147.23 h3 M823.90 158.09 h5 M962.60 158.09 h3 M823.90 179.82 h5 M962.60 179.82 h3 M823.90 190.69 h5 M962.60 190.69 h3 M823.90 201.56 h5 M962.60 201.56 h3 M823.90 223.28 h5 M962.60 223.28 h3 M823.90 234.15 h5 M962.60 234.15 h3 M823.90 245.01 h5 M962.60 245.01 h3 M823.90 266.75 h5 M962.60 266.75 h3 M823.90 277.61 h5 M962.60 277.61 h3 M823.90 288.48 h5 M962.60 288.48 h3 M823.90 310.21 h5 M962.60 310.21 h3 M823.90 321.07 h5 M962.60 321.07 h3 M823.90 331.94 h5 M962.60 331.94 h3 M823.90 353.66 h5 M962.60 353.66 h3 M823.90 364.53 h5 M962.60 364.53 h3" stroke="#474747" stroke-width="0.9" fill="none"/><rect x="670.6" y="125.5" width="13.80" height="245.40" fill="#eb9a4c"/><rect x="683.9" y="125.5" width="31.40" height="245.40" fill="#c0a066"/><rect x="714.8" y="125.5" width="24.60" height="245.40" fill="#7dc5a0"/><rect x="738.9" y="125.5" width="15.60" height="245.40" fill="#428e80"/><rect x="754.0" y="125.5" width="27.10" height="245.40" fill="#495879"/><rect x="780.6" y="125.5" width="18.10" height="245.40" fill="#b8693e"/><rect x="826.4" y="125.5" width="59.00" height="4.30" fill="#c0a066"/><rect x="826.4" y="129.2" width="81.20" height="57.90" fill="#7dc5a0"/><rect x="826.4" y="186.5" width="96.80" height="41.60" fill="#428e80"/><rect x="826.4" y="227.5" width="114.60" height="11.50" fill="#495879"/><rect x="826.4" y="238.4" width="96.80" height="43.80" fill="#428e80"/><rect x="826.4" y="281.6" width="114.60" height="89.30" fill="#495879"/><path d="M302.10 126.00 C301.53 126.10 298.19 126.38 297.50 126.80 C296.81 127.22 296.60 128.65 296.60 129.40 C296.60 130.15 297.60 132.16 297.50 132.80 C297.40 133.44 297.40 134.06 295.80 134.50 C294.20 134.94 286.56 135.86 284.70 136.30 C282.84 136.74 281.44 137.47 280.90 138.00 C280.36 138.53 279.29 139.75 280.40 140.50 C281.51 141.25 286.81 143.19 289.80 144.00 C292.79 144.81 303.45 146.36 304.30 147.00 C305.15 147.64 298.84 148.66 296.60 149.10 C294.36 149.54 288.54 150.18 286.40 150.50 C284.26 150.82 281.00 151.24 279.50 151.70 C278.00 152.16 275.46 153.50 274.40 154.20 C273.34 154.90 272.07 156.65 271.00 157.30 C269.93 157.95 266.76 158.93 265.80 159.40 C264.84 159.88 263.94 160.42 263.30 161.10 C262.66 161.78 261.66 164.05 260.70 164.80 C259.74 165.55 257.10 166.50 255.60 167.10 C254.10 167.70 249.99 168.96 248.70 169.60 C247.41 170.24 246.15 171.45 245.30 172.20 C244.45 172.95 242.50 174.52 241.90 175.60 C241.30 176.68 240.40 179.84 240.50 180.80 C240.60 181.76 242.21 182.66 242.70 183.30 C243.19 183.94 244.71 185.04 244.40 185.90 C244.09 186.76 240.94 189.24 240.20 190.20 C239.46 191.16 238.94 192.54 238.50 193.60 C238.06 194.66 236.81 197.85 236.70 198.70 C236.59 199.55 237.06 199.85 237.60 200.40 C238.14 200.95 241.32 202.19 241.00 203.10 C240.68 204.01 236.50 206.59 235.00 207.70 C233.50 208.81 229.68 211.04 229.00 212.00 C228.32 212.96 229.06 214.44 229.60 215.40 C230.14 216.36 232.45 218.74 233.30 219.70 C234.15 220.66 236.40 222.25 236.40 223.10 C236.40 223.95 235.19 225.79 233.30 226.50 C231.41 227.21 224.29 228.26 221.30 228.80 C218.31 229.34 211.75 230.16 209.40 230.80 C207.05 231.44 201.86 233.26 202.50 233.90 C203.14 234.54 211.07 235.39 214.50 235.90 C217.93 236.41 226.05 237.35 229.90 238.00 C233.75 238.65 244.01 239.86 245.30 241.10 C246.59 242.34 241.16 246.40 240.20 247.90 C239.24 249.40 238.29 251.49 237.60 253.10 C236.91 254.71 234.70 259.20 234.70 260.80 C234.70 262.40 237.17 264.51 237.60 265.90 C238.03 267.29 238.64 270.07 238.10 271.90 C237.56 273.72 234.36 279.07 233.30 280.50 C232.24 281.93 231.41 282.46 229.60 283.30 C227.79 284.14 221.18 286.07 218.80 287.20 C216.43 288.32 211.28 291.35 210.60 292.30 C209.92 293.25 211.70 294.19 213.40 294.80 C215.10 295.41 221.72 296.61 224.20 297.20 C226.67 297.79 231.40 298.76 233.20 299.50 C235.00 300.24 237.01 302.26 238.60 303.10 C240.19 303.94 244.28 305.25 245.90 306.20 C247.53 307.15 251.60 309.46 251.60 310.70 C251.60 311.94 246.84 314.86 245.90 316.10 C244.96 317.34 244.90 319.69 244.10 320.60 C243.30 321.51 240.75 322.82 239.50 323.40 C238.25 323.97 234.66 324.64 234.10 325.20 C233.54 325.76 234.03 327.11 235.00 327.90 C235.97 328.69 241.90 330.31 241.90 331.50 C241.90 332.69 235.22 335.89 235.00 337.40 C234.78 338.91 240.55 342.09 240.10 343.60 C239.65 345.11 232.53 348.41 231.40 349.50 C230.28 350.59 230.99 351.28 231.10 352.30 C231.21 353.32 231.36 356.46 232.30 357.70 C233.24 358.94 236.68 361.19 238.60 362.20 C240.52 363.21 245.94 364.85 247.70 365.80 C249.46 366.75 252.07 369.30 252.70 369.80" fill="none" stroke="#cf10d6" stroke-width="1.45" stroke-linejoin="round" stroke-linecap="round"/><path d="M422.60 126.30 C423.53 126.36 429.07 126.09 430.00 126.80 C430.93 127.51 428.61 131.10 430.00 132.00 C431.39 132.90 438.21 133.46 441.10 134.00 C443.99 134.54 450.64 135.65 453.10 136.30 C455.56 136.95 459.20 138.46 460.80 139.20 C462.40 139.94 466.65 141.50 465.90 142.20 C465.15 142.90 457.69 144.26 454.80 144.80 C451.91 145.34 444.73 145.96 442.80 146.50 C440.88 147.04 440.04 148.45 439.40 149.10 C438.76 149.75 439.09 151.10 437.70 151.70 C436.31 152.30 431.51 153.41 428.30 153.90 C425.09 154.39 416.60 155.09 412.00 155.60 C407.40 156.11 395.45 157.53 391.50 158.00 C387.55 158.47 382.01 159.06 380.40 159.40 C378.79 159.74 378.75 160.06 378.60 160.70 C378.45 161.34 378.76 163.81 379.20 164.50 C379.64 165.19 381.74 165.45 382.10 166.20 C382.46 166.95 382.43 169.60 382.10 170.50 C381.78 171.40 380.15 172.76 379.50 173.40 C378.85 174.04 377.29 174.90 376.90 175.60 C376.51 176.30 376.71 177.82 376.40 179.00 C376.09 180.18 374.49 183.81 374.40 185.00 C374.31 186.19 375.66 187.25 375.70 188.50 C375.74 189.75 374.44 193.72 374.70 195.00 C374.96 196.28 377.41 197.69 377.80 198.70 C378.19 199.71 378.66 201.97 377.80 203.10 C376.94 204.22 371.86 206.38 370.90 207.70 C369.94 209.02 370.35 211.89 370.10 213.70 C369.85 215.51 369.32 220.16 368.90 222.20 C368.47 224.24 366.01 228.66 366.70 230.00 C367.39 231.34 372.26 232.16 374.40 232.90 C376.54 233.64 382.31 234.99 383.80 235.90 C385.29 236.81 386.30 239.24 386.30 240.20 C386.30 241.16 384.98 242.74 383.80 243.60 C382.62 244.46 378.19 246.14 376.90 247.10 C375.61 248.06 374.07 250.12 373.50 251.30 C372.93 252.48 372.09 255.10 372.30 256.50 C372.51 257.90 374.90 261.11 375.20 262.50 C375.50 263.89 375.34 266.21 374.70 267.60 C374.06 268.99 371.04 272.21 370.10 273.60 C369.16 274.99 367.62 277.74 367.20 278.70 C366.77 279.66 367.11 280.57 366.70 281.30 C366.29 282.03 364.59 283.71 363.90 284.50 C363.21 285.29 360.97 286.76 361.20 287.60 C361.43 288.44 364.24 290.39 365.70 291.20 C367.16 292.01 371.31 293.24 372.90 294.10 C374.49 294.96 377.04 297.26 378.40 298.10 C379.76 298.94 382.45 299.90 383.80 300.80 C385.15 301.70 389.39 304.29 389.20 305.30 C389.01 306.31 383.25 308.00 382.30 308.90 C381.35 309.80 381.60 311.60 381.60 312.50 C381.60 313.40 383.05 315.20 382.30 316.10 C381.55 317.00 376.89 318.91 375.60 319.70 C374.31 320.49 372.60 321.26 372.00 322.40 C371.40 323.54 371.31 327.32 370.80 328.80 C370.29 330.28 368.31 332.62 367.90 334.20 C367.49 335.77 367.59 339.82 367.50 341.40 C367.41 342.97 367.09 345.55 367.20 346.80 C367.31 348.05 367.80 350.15 368.40 351.40 C369.00 352.65 371.21 355.45 372.00 356.80 C372.79 358.15 374.40 360.57 374.70 362.20 C375.00 363.82 374.44 368.85 374.40 369.80" fill="none" stroke="#0f720f" stroke-width="1.45" stroke-linejoin="round" stroke-linecap="round"/><path d="M633.20 126.20 C632.16 126.25 626.58 126.35 624.90 126.60 C623.22 126.85 621.29 127.79 619.80 128.20 C618.31 128.61 614.17 129.39 613.00 129.90 C611.83 130.41 611.05 131.40 610.40 132.30 C609.75 133.20 608.44 135.96 607.80 137.10 C607.16 138.24 605.94 140.65 605.30 141.40 C604.66 142.15 603.89 142.46 602.70 143.10 C601.51 143.74 596.97 145.64 595.80 146.50 C594.62 147.36 593.94 149.25 593.30 150.00 C592.66 150.75 592.31 151.80 590.70 152.50 C589.09 153.20 582.96 154.79 580.40 155.60 C577.84 156.41 571.74 158.36 570.20 159.00 C568.66 159.64 568.43 159.59 568.10 160.70 C567.77 161.81 567.99 166.46 567.60 167.90 C567.21 169.34 565.70 171.34 565.00 172.20 C564.30 173.06 562.52 173.95 562.00 174.80 C561.48 175.65 561.27 177.72 560.80 179.00 C560.32 180.28 558.58 183.60 558.20 185.00 C557.83 186.40 558.06 188.80 557.80 190.20 C557.54 191.60 556.23 194.71 556.10 196.20 C555.98 197.69 557.40 200.66 556.80 202.10 C556.20 203.54 552.24 206.25 551.30 207.70 C550.36 209.15 549.82 211.89 549.30 213.70 C548.77 215.51 547.74 220.16 547.10 222.20 C546.46 224.24 543.99 228.50 544.20 230.00 C544.41 231.50 547.52 233.35 548.80 234.20 C550.07 235.05 553.61 235.84 554.40 236.80 C555.19 237.76 555.49 240.73 555.10 241.90 C554.71 243.07 552.30 245.12 551.30 246.20 C550.30 247.27 547.84 249.11 547.10 250.50 C546.36 251.89 545.46 255.59 545.40 257.30 C545.34 259.01 546.98 262.38 546.60 264.20 C546.23 266.02 543.30 270.09 542.40 271.90 C541.50 273.71 540.19 277.12 539.40 278.70 C538.61 280.27 536.91 283.39 536.10 284.50 C535.29 285.61 533.01 286.81 532.90 287.60 C532.79 288.39 534.12 289.99 535.20 290.80 C536.28 291.61 540.08 293.08 541.50 294.10 C542.92 295.12 545.46 297.71 546.60 299.00 C547.74 300.29 550.51 303.16 550.60 304.40 C550.69 305.64 547.86 307.55 547.30 308.90 C546.74 310.25 546.83 313.85 546.10 315.20 C545.38 316.55 542.41 318.45 541.50 319.70 C540.59 320.95 539.36 323.61 538.80 325.20 C538.24 326.79 537.45 330.60 537.00 332.40 C536.55 334.20 535.49 337.58 535.20 339.60 C534.91 341.62 534.48 346.56 534.70 348.60 C534.93 350.64 536.49 354.31 537.00 355.90 C537.51 357.49 538.57 359.56 538.80 361.30 C539.02 363.04 538.80 368.74 538.80 369.80" fill="none" stroke="#7ae27a" stroke-width="1.4" stroke-linejoin="round" stroke-linecap="round"/><path d="M709.20 126.50 C709.45 126.54 710.53 126.44 711.20 126.80 C711.88 127.16 713.53 128.54 714.60 129.40 C715.67 130.26 718.40 132.84 719.80 133.70 C721.20 134.56 724.56 135.45 725.80 136.30 C727.04 137.15 729.28 139.54 729.70 140.50 C730.12 141.46 729.69 143.25 729.20 144.00 C728.71 144.75 726.12 145.86 725.80 146.50 C725.47 147.14 725.96 148.35 726.60 149.10 C727.24 149.85 730.51 151.65 730.90 152.50 C731.29 153.35 730.34 154.94 729.70 155.90 C729.06 156.86 726.07 159.09 725.80 160.20 C725.52 161.31 726.65 163.51 727.50 164.80 C728.35 166.09 731.54 169.04 732.60 170.50 C733.66 171.96 735.36 174.79 736.00 176.50 C736.64 178.21 737.20 182.27 737.70 184.20 C738.20 186.12 739.25 190.19 740.00 191.90 C740.75 193.61 743.40 196.58 743.70 197.90 C744.00 199.22 742.19 201.06 742.40 202.50 C742.61 203.94 744.91 207.68 745.40 209.40 C745.89 211.12 746.40 214.59 746.30 216.30 C746.20 218.01 744.60 221.71 744.60 223.10 C744.60 224.49 745.12 226.61 746.30 227.40 C747.47 228.19 751.75 228.86 754.00 229.40 C756.25 229.94 762.05 231.14 764.30 231.70 C766.55 232.26 772.00 233.38 772.00 233.90 C772.00 234.43 766.55 235.39 764.30 235.90 C762.05 236.41 755.92 237.40 754.00 238.00 C752.08 238.60 749.54 239.46 748.90 240.70 C748.26 241.94 748.59 245.71 748.90 247.90 C749.21 250.09 750.98 256.06 751.40 258.20 C751.82 260.34 752.51 263.29 752.30 265.00 C752.09 266.71 749.96 270.09 749.70 271.90 C749.44 273.71 749.73 278.15 750.20 279.50 C750.68 280.85 752.19 281.74 753.50 282.70 C754.81 283.66 758.89 285.91 760.70 287.20 C762.51 288.49 767.66 291.91 768.00 293.00 C768.34 294.09 764.54 295.15 763.40 295.90 C762.26 296.65 759.69 297.94 758.90 299.00 C758.11 300.06 757.77 303.27 757.10 304.40 C756.43 305.52 754.06 307.10 753.50 308.00 C752.94 308.90 752.41 310.48 752.60 311.60 C752.79 312.73 754.89 315.76 755.00 317.00 C755.11 318.24 753.24 320.36 753.50 321.50 C753.76 322.64 756.99 324.85 757.10 326.10 C757.21 327.35 754.35 329.93 754.40 331.50 C754.45 333.07 757.39 337.12 757.50 338.70 C757.61 340.27 755.01 342.40 755.30 344.10 C755.59 345.80 759.16 350.38 759.80 352.30 C760.44 354.23 760.74 358.04 760.40 359.50 C760.06 360.96 757.85 362.71 757.10 364.00 C756.35 365.29 754.74 369.07 754.40 369.80" fill="none" stroke="#ffffff" stroke-width="1.3" stroke-linejoin="round" stroke-linecap="round"/><text x="175.00" y="380.5" font-size="6.7" fill="#262626" text-anchor="middle">0</text><text x="202.34" y="380.5" font-size="6.7" fill="#262626" text-anchor="middle">1</text><text x="229.68" y="380.5" font-size="6.7" fill="#262626" text-anchor="middle">2</text><text x="257.01" y="380.5" font-size="6.7" fill="#262626" text-anchor="middle">3</text><text x="284.35" y="380.5" font-size="6.7" fill="#262626" text-anchor="middle">4</text><text x="167.40" y="127.00" font-size="6.4" fill="#262626" text-anchor="end">0</text><text x="167.40" y="170.46" font-size="6.4" fill="#262626" text-anchor="end">2</text><text x="167.40" y="213.92" font-size="6.4" fill="#262626" text-anchor="end">4</text><text x="167.40" y="257.38" font-size="6.4" fill="#262626" text-anchor="end">6</text><text x="167.40" y="300.84" font-size="6.4" fill="#262626" text-anchor="end">8</text><text x="167.40" y="344.30" font-size="6.4" fill="#262626" text-anchor="end">10</text><path d="M175.00 125.5 v4.2 M175.00 367.2 v7.6 M202.34 125.5 v4.2 M202.34 367.2 v7.6 M229.68 125.5 v4.2 M229.68 367.2 v7.6 M257.01 125.5 v4.2 M257.01 367.2 v7.6 M284.35 125.5 v4.2 M284.35 367.2 v7.6 M171.20 125.50 h7.6 M301.80 125.50 h3.6 M171.20 168.96 h7.6 M301.80 168.96 h3.6 M171.20 212.42 h7.6 M301.80 212.42 h3.6 M171.20 255.88 h7.6 M301.80 255.88 h3.6 M171.20 299.34 h7.6 M301.80 299.34 h3.6 M171.20 342.80 h7.6 M301.80 342.80 h3.6" stroke="#474747" stroke-width="0.9" fill="none"/><rect x="175.0" y="125.5" width="130.40" height="245.40" fill="none" stroke="#474747" stroke-width="1.25"/><text x="230" y="116.2" font-size="6.6" font-weight="bold" fill="#262626" text-anchor="middle">Удельное сопротивление</text><text x="230" y="123.0" font-size="6.6" font-weight="bold" fill="#262626" text-anchor="middle">под конусом</text><text x="240.20" y="390.2" font-size="7.0" font-weight="bold" fill="#262626" text-anchor="middle">qc, МПа</text><text transform="translate(157.80 249.9) rotate(-90)" font-size="5.9" font-weight="bold" fill="#262626" text-anchor="middle">Глубина, м</text><text x="340.40" y="380.5" font-size="6.7" fill="#262626" text-anchor="middle">0</text><text x="358.30" y="380.5" font-size="6.7" fill="#262626" text-anchor="middle">50</text><text x="376.20" y="380.5" font-size="6.7" fill="#262626" text-anchor="middle">100</text><text x="394.11" y="380.5" font-size="6.7" fill="#262626" text-anchor="middle">150</text><text x="412.01" y="380.5" font-size="6.7" fill="#262626" text-anchor="middle">200</text><text x="429.91" y="380.5" font-size="6.7" fill="#262626" text-anchor="middle">250</text><text x="447.81" y="380.5" font-size="6.7" fill="#262626" text-anchor="middle">300</text><text x="465.71" y="380.5" font-size="6.7" fill="#262626" text-anchor="middle">350</text><text x="332.80" y="127.00" font-size="6.4" fill="#262626" text-anchor="end">0</text><text x="332.80" y="170.46" font-size="6.4" fill="#262626" text-anchor="end">2</text><text x="332.80" y="213.92" font-size="6.4" fill="#262626" text-anchor="end">4</text><text x="332.80" y="257.38" font-size="6.4" fill="#262626" text-anchor="end">6</text><text x="332.80" y="300.84" font-size="6.4" fill="#262626" text-anchor="end">8</text><text x="332.80" y="344.30" font-size="6.4" fill="#262626" text-anchor="end">10</text><path d="M340.40 125.5 v4.2 M340.40 367.2 v7.6 M358.30 125.5 v4.2 M358.30 367.2 v7.6 M376.20 125.5 v4.2 M376.20 367.2 v7.6 M394.11 125.5 v4.2 M394.11 367.2 v7.6 M412.01 125.5 v4.2 M412.01 367.2 v7.6 M429.91 125.5 v4.2 M429.91 367.2 v7.6 M447.81 125.5 v4.2 M447.81 367.2 v7.6 M465.71 125.5 v4.2 M465.71 367.2 v7.6 M336.60 125.50 h7.6 M462.40 125.50 h3.6 M336.60 168.96 h7.6 M462.40 168.96 h3.6 M336.60 212.42 h7.6 M462.40 212.42 h3.6 M336.60 255.88 h7.6 M462.40 255.88 h3.6 M336.60 299.34 h7.6 M462.40 299.34 h3.6 M336.60 342.80 h7.6 M462.40 342.80 h3.6" stroke="#474747" stroke-width="0.9" fill="none"/><rect x="340.4" y="125.5" width="125.60" height="245.40" fill="none" stroke="#474747" stroke-width="1.25"/><text x="395" y="116.2" font-size="6.6" font-weight="bold" fill="#262626" text-anchor="middle">Удельное сопротивление</text><text x="395" y="123.0" font-size="6.6" font-weight="bold" fill="#262626" text-anchor="middle">по муфте трения</text><text x="403.20" y="390.2" font-size="7.0" font-weight="bold" fill="#262626" text-anchor="middle">fs, кПа</text><text transform="translate(323.20 249.9) rotate(-90)" font-size="5.9" font-weight="bold" fill="#262626" text-anchor="middle">Глубина, м</text><text x="505.80" y="380.5" font-size="6.7" fill="#262626" text-anchor="middle">17</text><text x="525.74" y="380.5" font-size="6.7" fill="#262626" text-anchor="middle">18</text><text x="545.67" y="380.5" font-size="6.7" fill="#262626" text-anchor="middle">19</text><text x="565.61" y="380.5" font-size="6.7" fill="#262626" text-anchor="middle">20</text><text x="585.55" y="380.5" font-size="6.7" fill="#262626" text-anchor="middle">21</text><text x="605.49" y="380.5" font-size="6.7" fill="#262626" text-anchor="middle">22</text><text x="625.42" y="380.5" font-size="6.7" fill="#262626" text-anchor="middle">23</text><text x="498.20" y="127.00" font-size="6.4" fill="#262626" text-anchor="end">0</text><text x="498.20" y="170.46" font-size="6.4" fill="#262626" text-anchor="end">2</text><text x="498.20" y="213.92" font-size="6.4" fill="#262626" text-anchor="end">4</text><text x="498.20" y="257.38" font-size="6.4" fill="#262626" text-anchor="end">6</text><text x="498.20" y="300.84" font-size="6.4" fill="#262626" text-anchor="end">8</text><text x="498.20" y="344.30" font-size="6.4" fill="#262626" text-anchor="end">10</text><path d="M505.80 125.5 v4.2 M505.80 367.2 v7.6 M525.74 125.5 v4.2 M525.74 367.2 v7.6 M545.67 125.5 v4.2 M545.67 367.2 v7.6 M565.61 125.5 v4.2 M565.61 367.2 v7.6 M585.55 125.5 v4.2 M585.55 367.2 v7.6 M605.49 125.5 v4.2 M605.49 367.2 v7.6 M625.42 125.5 v4.2 M625.42 367.2 v7.6 M502.00 125.50 h7.6 M629.60 125.50 h3.6 M502.00 168.96 h7.6 M629.60 168.96 h3.6 M502.00 212.42 h7.6 M629.60 212.42 h3.6 M502.00 255.88 h7.6 M629.60 255.88 h3.6 M502.00 299.34 h7.6 M629.60 299.34 h3.6 M502.00 342.80 h7.6 M629.60 342.80 h3.6" stroke="#474747" stroke-width="0.9" fill="none"/><rect x="505.8" y="125.5" width="127.40" height="245.40" fill="none" stroke="#474747" stroke-width="1.25"/><text x="560.5" y="116.2" font-size="6.6" font-weight="bold" fill="#262626" text-anchor="middle">Нормализованный</text><text x="560.5" y="123.0" font-size="6.6" font-weight="bold" fill="#262626" text-anchor="middle">коэффициент трения</text><text x="569.50" y="390.2" font-size="7.0" font-weight="bold" fill="#262626" text-anchor="middle">Fr</text><text transform="translate(488.60 249.9) rotate(-90)" font-size="5.9" font-weight="bold" fill="#262626" text-anchor="middle">Глубина, м</text><text x="670.60" y="380.5" font-size="6.7" fill="#262626" text-anchor="middle">1</text><text x="691.87" y="380.5" font-size="6.7" fill="#262626" text-anchor="middle">1,5</text><text x="713.13" y="380.5" font-size="6.7" fill="#262626" text-anchor="middle">2</text><text x="734.40" y="380.5" font-size="6.7" fill="#262626" text-anchor="middle">2,5</text><text x="755.67" y="380.5" font-size="6.7" fill="#262626" text-anchor="middle">3</text><text x="776.93" y="380.5" font-size="6.7" fill="#262626" text-anchor="middle">3,5</text><text x="798.20" y="380.5" font-size="6.7" fill="#262626" text-anchor="middle">4</text><text x="663.00" y="127.00" font-size="6.4" fill="#262626" text-anchor="end">0</text><text x="663.00" y="170.46" font-size="6.4" fill="#262626" text-anchor="end">2</text><text x="663.00" y="213.92" font-size="6.4" fill="#262626" text-anchor="end">4</text><text x="663.00" y="257.38" font-size="6.4" fill="#262626" text-anchor="end">6</text><text x="663.00" y="300.84" font-size="6.4" fill="#262626" text-anchor="end">8</text><text x="663.00" y="344.30" font-size="6.4" fill="#262626" text-anchor="end">10</text><path d="M670.60 125.5 v4.2 M670.60 367.2 v7.6 M691.87 125.5 v4.2 M691.87 367.2 v7.6 M713.13 125.5 v4.2 M713.13 367.2 v7.6 M734.40 125.5 v4.2 M734.40 367.2 v7.6 M755.67 125.5 v4.2 M755.67 367.2 v7.6 M776.93 125.5 v4.2 M776.93 367.2 v7.6 M798.20 125.5 v4.2 M798.20 367.2 v7.6 M666.80 125.50 h7.6 M794.60 125.50 h3.6 M666.80 168.96 h7.6 M794.60 168.96 h3.6 M666.80 212.42 h7.6 M794.60 212.42 h3.6 M666.80 255.88 h7.6 M794.60 255.88 h3.6 M666.80 299.34 h7.6 M794.60 299.34 h3.6 M666.80 342.80 h7.6 M794.60 342.80 h3.6" stroke="#474747" stroke-width="0.9" fill="none"/><rect x="670.6" y="125.5" width="127.60" height="245.40" fill="none" stroke="#474747" stroke-width="1.25"/><text x="725.8" y="116.2" font-size="6.6" font-weight="bold" fill="#262626" text-anchor="middle">Индекс типа</text><text x="725.8" y="123.0" font-size="6.6" font-weight="bold" fill="#262626" text-anchor="middle">грунта</text><text x="734.40" y="390.2" font-size="7.0" font-weight="bold" fill="#262626" text-anchor="middle">Ic</text><text transform="translate(653.40 249.9) rotate(-90)" font-size="5.9" font-weight="bold" fill="#262626" text-anchor="middle">Глубина, м</text><text x="826.40" y="380.5" font-size="6.7" fill="#262626" text-anchor="middle">0</text><text x="861.20" y="380.5" font-size="6.7" fill="#262626" text-anchor="middle">1</text><text x="896.00" y="380.5" font-size="6.7" fill="#262626" text-anchor="middle">2</text><text x="930.80" y="380.5" font-size="6.7" fill="#262626" text-anchor="middle">3</text><text x="965.60" y="380.5" font-size="6.7" fill="#262626" text-anchor="middle">4</text><text x="818.80" y="127.00" font-size="6.4" fill="#262626" text-anchor="end">0</text><text x="818.80" y="170.46" font-size="6.4" fill="#262626" text-anchor="end">2</text><text x="818.80" y="213.92" font-size="6.4" fill="#262626" text-anchor="end">4</text><text x="818.80" y="257.38" font-size="6.4" fill="#262626" text-anchor="end">6</text><text x="818.80" y="300.84" font-size="6.4" fill="#262626" text-anchor="end">8</text><text x="818.80" y="344.30" font-size="6.4" fill="#262626" text-anchor="end">10</text><path d="M826.40 125.5 v4.2 M826.40 367.2 v7.6 M861.20 125.5 v4.2 M861.20 367.2 v7.6 M896.00 125.5 v4.2 M896.00 367.2 v7.6 M930.80 125.5 v4.2 M930.80 367.2 v7.6 M965.60 125.5 v4.2 M965.60 367.2 v7.6 M822.60 125.50 h7.6 M962.00 125.50 h3.6 M822.60 168.96 h7.6 M962.00 168.96 h3.6 M822.60 212.42 h7.6 M962.00 212.42 h3.6 M822.60 255.88 h7.6 M962.00 255.88 h3.6 M822.60 299.34 h7.6 M962.00 299.34 h3.6 M822.60 342.80 h7.6 M962.00 342.80 h3.6" stroke="#474747" stroke-width="0.9" fill="none"/><rect x="826.4" y="125.5" width="139.20" height="245.40" fill="none" stroke="#474747" stroke-width="1.25"/><text x="891" y="116.2" font-size="6.6" font-weight="bold" fill="#262626" text-anchor="middle">Тип грунта SBTn</text><text x="891" y="123.0" font-size="6.6" font-weight="bold" fill="#262626" text-anchor="middle">Robertson 1990</text></svg>
<div class="a" style="left:148px;top:415px;width:817px;height:109px;background:#f9f9fb;border:1px solid #dadada"></div>
<div class="a" style="left:150px;top:401px;width:100px;height:17px;background:#fbfbfd;border:1px solid #dcdcdc;border-bottom:none;border-radius:2px 2px 0 0"></div>
<div class="t" style="top:404.88px;font-size:9.0px;color:#2a2a2a;left:157.00px;transform:scaleX(0.9400);transform-origin:left 50%;">Основные параметры</div>
<div class="a" style="left:151px;top:418px;width:812px;height:103.5px;background:#f8f8fc;border:1px solid #6fb0ca"></div>
<div class="a" style="left:152px;top:419px;width:797.5px;height:16.5px;background:linear-gradient(#ffffff,#f9f9f9 50%,#f0f0f0);"></div>
<div class="a" style="left:201px;top:419px;width:1px;height:16.5px;background:#e2e2e2;"></div>
<div class="a" style="left:239.7px;top:419px;width:1px;height:16.5px;background:#e2e2e2;"></div>
<div class="a" style="left:271.4px;top:419px;width:1px;height:16.5px;background:#e2e2e2;"></div>
<div class="a" style="left:297.5px;top:419px;width:1px;height:16.5px;background:#e2e2e2;"></div>
<div class="a" style="left:405.9px;top:419px;width:1px;height:16.5px;background:#e2e2e2;"></div>
<div class="a" style="left:466.7px;top:419px;width:1px;height:16.5px;background:#e2e2e2;"></div>
<div class="a" style="left:538px;top:419px;width:1px;height:16.5px;background:#e2e2e2;"></div>
<div class="a" style="left:575.9px;top:419px;width:1px;height:16.5px;background:#e2e2e2;"></div>
<div class="a" style="left:616.2px;top:419px;width:1px;height:16.5px;background:#e2e2e2;"></div>
<div class="a" style="left:658.7px;top:419px;width:1px;height:16.5px;background:#e2e2e2;"></div>
<div class="t" style="top:424.28px;font-size:9.0px;color:#2a2a2a;left:155.30px;transform:scaleX(0.9400);transform-origin:left 50%;">Глубина, м</div>
<div class="t" style="top:424.28px;font-size:9.0px;color:#2a2a2a;left:205.30px;transform:scaleX(0.9400);transform-origin:left 50%;">qc, МПа</div>
<div class="t" style="top:424.28px;font-size:9.0px;color:#2a2a2a;left:244.00px;transform:scaleX(0.9400);transform-origin:left 50%;">fs, кПа</div>
<div class="t" style="top:424.28px;font-size:9.0px;color:#2a2a2a;left:275.70px;transform:scaleX(0.9400);transform-origin:left 50%;">Rf, %</div>
<div class="t" style="top:424.28px;font-size:9.0px;color:#2a2a2a;left:301.80px;transform:scaleX(0.9400);transform-origin:left 50%;">Тип грунта</div>
<div class="t" style="top:424.28px;font-size:9.0px;color:#2a2a2a;left:410.20px;transform:scaleX(0.9400);transform-origin:left 50%;">Ic - Robertson</div>
<div class="t" style="top:424.28px;font-size:9.0px;color:#2a2a2a;left:471.00px;transform:scaleX(0.9400);transform-origin:left 50%;">γ, кН/м³ (Mayne)</div>
<div class="t" style="top:424.28px;font-size:9.0px;color:#2a2a2a;left:542.30px;transform:scaleX(0.9400);transform-origin:left 50%;">γ, кН/м³</div>
<div class="t" style="top:424.28px;font-size:9.0px;color:#2a2a2a;left:580.20px;transform:scaleX(0.9400);transform-origin:left 50%;">σv0, кПа</div>
<div class="t" style="top:424.28px;font-size:9.0px;color:#2a2a2a;left:620.50px;transform:scaleX(0.9400);transform-origin:left 50%;">σv0', кПа</div>
<div class="a" style="left:298.7px;top:436.94px;width:106.79999999999998px;height:11.56px;background:#c2a068;"></div>
<div class="t" style="top:438.72px;font-size:9.0px;color:#1e1e1e;left:153.60px;transform:scaleX(0.8950);transform-origin:left 50%;">0.05</div>
<div class="t" style="top:438.72px;font-size:9.0px;color:#1e1e1e;left:203.60px;transform:scaleX(0.8950);transform-origin:left 50%;">4.74</div>
<div class="t" style="top:438.72px;font-size:9.0px;color:#1e1e1e;left:242.30px;transform:scaleX(0.8950);transform-origin:left 50%;">232.86</div>
<div class="t" style="top:438.72px;font-size:9.0px;color:#1e1e1e;left:274.00px;transform:scaleX(0.8950);transform-origin:left 50%;">4.92</div>
<div class="t" style="top:438.72px;font-size:9.0px;color:#1e1e1e;left:300.10px;transform:scaleX(0.9400);transform-origin:left 50%;">Песок</div>
<div class="t" style="top:438.72px;font-size:9.0px;color:#1e1e1e;left:408.50px;transform:scaleX(0.8950);transform-origin:left 50%;">1.92</div>
<div class="t" style="top:438.72px;font-size:9.0px;color:#1e1e1e;left:469.30px;transform:scaleX(0.8950);transform-origin:left 50%;">23.42</div>
<div class="t" style="top:438.72px;font-size:9.0px;color:#1e1e1e;left:540.60px;transform:scaleX(0.8950);transform-origin:left 50%;">21.85</div>
<div class="t" style="top:438.72px;font-size:9.0px;color:#1e1e1e;left:578.50px;transform:scaleX(0.8950);transform-origin:left 50%;">1.17</div>
<div class="t" style="top:438.72px;font-size:9.0px;color:#1e1e1e;left:618.80px;transform:scaleX(0.8950);transform-origin:left 50%;">1.17</div>
<div class="a" style="left:298.7px;top:450.5px;width:106.79999999999998px;height:11.56px;background:#c2a068;"></div>
<div class="t" style="top:452.28px;font-size:9.0px;color:#1e1e1e;left:153.60px;transform:scaleX(0.8950);transform-origin:left 50%;">0.1</div>
<div class="t" style="top:452.28px;font-size:9.0px;color:#1e1e1e;left:203.60px;transform:scaleX(0.8950);transform-origin:left 50%;">4.57</div>
<div class="t" style="top:452.28px;font-size:9.0px;color:#1e1e1e;left:242.30px;transform:scaleX(0.8950);transform-origin:left 50%;">257.6</div>
<div class="t" style="top:452.28px;font-size:9.0px;color:#1e1e1e;left:274.00px;transform:scaleX(0.8950);transform-origin:left 50%;">5.63</div>
<div class="t" style="top:452.28px;font-size:9.0px;color:#1e1e1e;left:300.10px;transform:scaleX(0.9400);transform-origin:left 50%;">Песок</div>
<div class="t" style="top:452.28px;font-size:9.0px;color:#1e1e1e;left:408.50px;transform:scaleX(0.8950);transform-origin:left 50%;">1.98</div>
<div class="t" style="top:452.28px;font-size:9.0px;color:#1e1e1e;left:469.30px;transform:scaleX(0.8950);transform-origin:left 50%;">23.04</div>
<div class="t" style="top:452.28px;font-size:9.0px;color:#1e1e1e;left:540.60px;transform:scaleX(0.8950);transform-origin:left 50%;">21.95</div>
<div class="t" style="top:452.28px;font-size:9.0px;color:#1e1e1e;left:578.50px;transform:scaleX(0.8950);transform-origin:left 50%;">2.32</div>
<div class="t" style="top:452.28px;font-size:9.0px;color:#1e1e1e;left:618.80px;transform:scaleX(0.8950);transform-origin:left 50%;">2.32</div>
<div class="a" style="left:298.7px;top:464.06px;width:106.79999999999998px;height:11.56px;background:#c2a068;"></div>
<div class="t" style="top:465.84px;font-size:9.0px;color:#1e1e1e;left:153.60px;transform:scaleX(0.8950);transform-origin:left 50%;">0.2</div>
<div class="t" style="top:465.84px;font-size:9.0px;color:#1e1e1e;left:203.60px;transform:scaleX(0.8950);transform-origin:left 50%;">4.46</div>
<div class="t" style="top:465.84px;font-size:9.0px;color:#1e1e1e;left:242.30px;transform:scaleX(0.8950);transform-origin:left 50%;">252.97</div>
<div class="t" style="top:465.84px;font-size:9.0px;color:#1e1e1e;left:274.00px;transform:scaleX(0.8950);transform-origin:left 50%;">5.67</div>
<div class="t" style="top:465.84px;font-size:9.0px;color:#1e1e1e;left:300.10px;transform:scaleX(0.9400);transform-origin:left 50%;">Песок</div>
<div class="t" style="top:465.84px;font-size:9.0px;color:#1e1e1e;left:408.50px;transform:scaleX(0.8950);transform-origin:left 50%;">2.03</div>
<div class="t" style="top:465.84px;font-size:9.0px;color:#1e1e1e;left:469.30px;transform:scaleX(0.8950);transform-origin:left 50%;">22.54</div>
<div class="t" style="top:465.84px;font-size:9.0px;color:#1e1e1e;left:540.60px;transform:scaleX(0.8950);transform-origin:left 50%;">21.93</div>
<div class="t" style="top:465.84px;font-size:9.0px;color:#1e1e1e;left:578.50px;transform:scaleX(0.8950);transform-origin:left 50%;">4.58</div>
<div class="t" style="top:465.84px;font-size:9.0px;color:#1e1e1e;left:618.80px;transform:scaleX(0.8950);transform-origin:left 50%;">4.58</div>
<div class="a" style="left:298.7px;top:477.62px;width:106.79999999999998px;height:11.56px;background:#7fc6a1;"></div>
<div class="t" style="top:479.40px;font-size:9.0px;color:#1e1e1e;left:153.60px;transform:scaleX(0.8950);transform-origin:left 50%;">0.3</div>
<div class="t" style="top:479.40px;font-size:9.0px;color:#1e1e1e;left:203.60px;transform:scaleX(0.8950);transform-origin:left 50%;">4.56</div>
<div class="t" style="top:479.40px;font-size:9.0px;color:#1e1e1e;left:242.30px;transform:scaleX(0.8950);transform-origin:left 50%;">255.69</div>
<div class="t" style="top:479.40px;font-size:9.0px;color:#1e1e1e;left:274.00px;transform:scaleX(0.8950);transform-origin:left 50%;">5.6</div>
<div class="t" style="top:479.40px;font-size:9.0px;color:#1e1e1e;left:300.10px;transform:scaleX(0.9400);transform-origin:left 50%;">Супесь - пылеватый песок</div>
<div class="t" style="top:479.40px;font-size:9.0px;color:#1e1e1e;left:408.50px;transform:scaleX(0.8950);transform-origin:left 50%;">2.07</div>
<div class="t" style="top:479.40px;font-size:9.0px;color:#1e1e1e;left:469.30px;transform:scaleX(0.8950);transform-origin:left 50%;">22.27</div>
<div class="t" style="top:479.40px;font-size:9.0px;color:#1e1e1e;left:540.60px;transform:scaleX(0.8950);transform-origin:left 50%;">21.95</div>
<div class="t" style="top:479.40px;font-size:9.0px;color:#1e1e1e;left:578.50px;transform:scaleX(0.8950);transform-origin:left 50%;">6.8</div>
<div class="t" style="top:479.40px;font-size:9.0px;color:#1e1e1e;left:618.80px;transform:scaleX(0.8950);transform-origin:left 50%;">6.8</div>
<div class="a" style="left:298.7px;top:491.18px;width:106.79999999999998px;height:11.56px;background:#7fc6a1;"></div>
<div class="t" style="top:492.96px;font-size:9.0px;color:#1e1e1e;left:153.60px;transform:scaleX(0.8950);transform-origin:left 50%;">0.4</div>
<div class="t" style="top:492.96px;font-size:9.0px;color:#1e1e1e;left:203.60px;transform:scaleX(0.8950);transform-origin:left 50%;">4.49</div>
<div class="t" style="top:492.96px;font-size:9.0px;color:#1e1e1e;left:242.30px;transform:scaleX(0.8950);transform-origin:left 50%;">290.51</div>
<div class="t" style="top:492.96px;font-size:9.0px;color:#1e1e1e;left:274.00px;transform:scaleX(0.8950);transform-origin:left 50%;">6.47</div>
<div class="t" style="top:492.96px;font-size:9.0px;color:#1e1e1e;left:300.10px;transform:scaleX(0.9400);transform-origin:left 50%;">Супесь - пылеватый песок</div>
<div class="t" style="top:492.96px;font-size:9.0px;color:#1e1e1e;left:408.50px;transform:scaleX(0.8950);transform-origin:left 50%;">2.17</div>
<div class="t" style="top:492.96px;font-size:9.0px;color:#1e1e1e;left:469.30px;transform:scaleX(0.8950);transform-origin:left 50%;">22.2</div>
<div class="t" style="top:492.96px;font-size:9.0px;color:#1e1e1e;left:540.60px;transform:scaleX(0.8950);transform-origin:left 50%;">22.07</div>
<div class="t" style="top:492.96px;font-size:9.0px;color:#1e1e1e;left:578.50px;transform:scaleX(0.8950);transform-origin:left 50%;">9.02</div>
<div class="t" style="top:492.96px;font-size:9.0px;color:#1e1e1e;left:618.80px;transform:scaleX(0.8950);transform-origin:left 50%;">9.02</div>
<div class="a" style="left:298.7px;top:504.74px;width:106.79999999999998px;height:11.56px;background:#7fc6a1;"></div>
<div class="t" style="top:506.52px;font-size:9.0px;color:#1e1e1e;left:153.60px;transform:scaleX(0.8950);transform-origin:left 50%;">0.5</div>
<div class="t" style="top:506.52px;font-size:9.0px;color:#1e1e1e;left:203.60px;transform:scaleX(0.8950);transform-origin:left 50%;">3.99</div>
<div class="t" style="top:506.52px;font-size:9.0px;color:#1e1e1e;left:242.30px;transform:scaleX(0.8950);transform-origin:left 50%;">321</div>
<div class="t" style="top:506.52px;font-size:9.0px;color:#1e1e1e;left:274.00px;transform:scaleX(0.8950);transform-origin:left 50%;">8.04</div>
<div class="t" style="top:506.52px;font-size:9.0px;color:#1e1e1e;left:300.10px;transform:scaleX(0.9400);transform-origin:left 50%;">Супесь - пылеватый песок</div>
<div class="t" style="top:506.52px;font-size:9.0px;color:#1e1e1e;left:408.50px;transform:scaleX(0.8950);transform-origin:left 50%;">2.32</div>
<div class="t" style="top:506.52px;font-size:9.0px;color:#1e1e1e;left:469.30px;transform:scaleX(0.8950);transform-origin:left 50%;">22.16</div>
<div class="t" style="top:506.52px;font-size:9.0px;color:#1e1e1e;left:540.60px;transform:scaleX(0.8950);transform-origin:left 50%;">22.17</div>
<div class="t" style="top:506.52px;font-size:9.0px;color:#1e1e1e;left:578.50px;transform:scaleX(0.8950);transform-origin:left 50%;">11.24</div>
<div class="t" style="top:506.52px;font-size:9.0px;color:#1e1e1e;left:618.80px;transform:scaleX(0.8950);transform-origin:left 50%;">11.24</div>
<div class="a" style="left:298.7px;top:518.3000000000001px;width:106.79999999999998px;height:4px;background:#7fc6a1;"></div>
<svg class="a" style="left:0;top:0" width="974" height="526" viewBox="0 0 974 526"><g stroke="#3c3c3c" stroke-width="1.2"><path d="M152 449.30 H949.5"/><path d="M152 462.86 H949.5"/><path d="M152 476.42 H949.5"/><path d="M152 489.98 H949.5"/><path d="M152 503.54 H949.5"/><path d="M152 517.10 H949.5"/><path d="M201.0 435.8 V520.6"/><path d="M239.7 435.8 V520.6"/><path d="M271.4 435.8 V520.6"/><path d="M297.5 435.8 V520.6"/><path d="M405.9 435.8 V520.6"/><path d="M466.7 435.8 V520.6"/><path d="M538.0 435.8 V520.6"/><path d="M575.9 435.8 V520.6"/><path d="M616.2 435.8 V520.6"/><path d="M658.7 435.8 V520.6"/></g></svg>
<div class="a" style="left:949.5px;top:419px;width:12.5px;height:101.6px;background:#f0f0f0;"></div>
<div class="a" style="left:949.5px;top:448.8px;width:12.5px;height:5px;background:#cdcdcd;"></div>
<div class="a" style="left:151px;top:521.2px;width:812px;height:1.8px;background:#f9f9fb;"></div>
<div class="a" style="left:151px;top:520.6px;width:812px;height:1px;background:#6fb0ca;"></div>
<svg class="a" style="left:0;top:0" width="974" height="526" viewBox="0 0 974 526"><path d="M129.60000000000002 117.8 L132.8 114.8 L136.0 117.8" fill="none" stroke="#8a8a8a" stroke-width=".9"/><path d="M129.60000000000002 301.2 L132.8 304.2 L136.0 301.2" fill="none" stroke="#8a8a8a" stroke-width=".9"/><path d="M129.60000000000002 388.0 L132.8 385.0 L136.0 388.0" fill="none" stroke="#8a8a8a" stroke-width=".9"/><path d="M129.60000000000002 513.2 L132.8 516.2 L136.0 513.2" fill="none" stroke="#8a8a8a" stroke-width=".9"/><path d="M952.5999999999999 444.5 L955.8 441.5 L959.0 444.5" fill="none" stroke="#8a8a8a" stroke-width=".9"/><path d="M952.5999999999999 513.9 L955.8 516.9 L959.0 513.9" fill="none" stroke="#8a8a8a" stroke-width=".9"/></svg>
<div class="a" style="left:1px;top:1px;width:972px;height:524px;border:1px solid #f2fbff;z-index:49"></div>
<div class="a" style="left:0;top:0;width:974px;height:526px;border:1px solid #51a0c9;z-index:50"></div>
</body></html>
